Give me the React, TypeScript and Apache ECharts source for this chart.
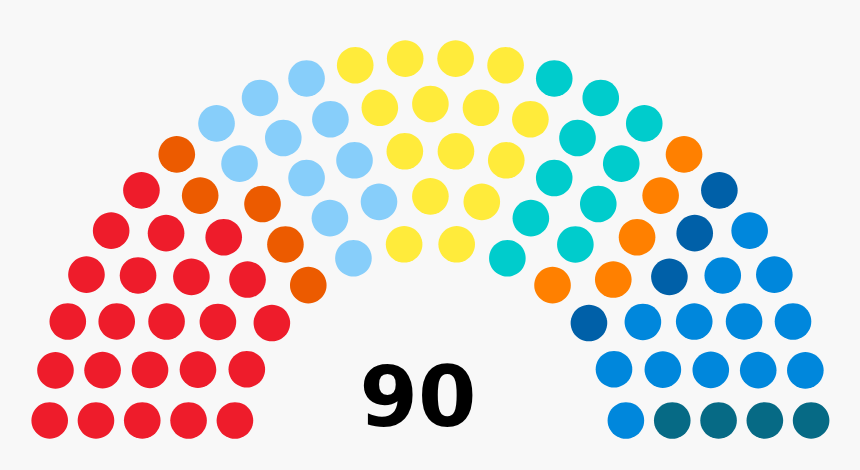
import { useEffect, useRef } from 'react';
import * as echarts from 'echarts';

// seats per group, left to right
const parties = ['A', 'B', 'C', 'D', 'E', 'F', 'G', 'H', 'I'];
const seats = [23, 5, 11, 15, 10, 5, 4, 13, 4];
const colors = ['#EE1C2B', '#EC5B00', '#87CEFA', '#FFEB3B', '#00CCCC', '#FF8000', '#0060A8', '#0087DC', '#066A85'];
const totalLabel = '90';

// row capacities used by the classic parliament-diagram layout
const rowTotals = [3, 15, 33, 61, 95, 138, 189, 247, 313, 388, 469, 559, 657, 762, 876, 997];

function seatLayout(total: number) {
  let rows = 0;
  while (rowTotals[rows] < total) rows++;
  rows += 1;
  const spot = 0.4 / rows;
  const list: [number, number][] = [];
  const addRow = (R: number, J: number) => {
    if (J === 1) {
      list.push([Math.PI / 2, R]);
      return;
    }
    const off = Math.sin(spot / R);
    for (let j = 0; j < J; j++) {
      list.push([(j * (Math.PI - 2 * off)) / (J - 1) + off, R]);
    }
  };
  for (let i = 1; i < rows; i++) {
    const R = (3 * rows + 4 * i - 2) / (4 * rows);
    const J = Math.floor(
      ((total / rowTotals[rows - 1]) * Math.PI) / (2 * Math.asin(2 / (3 * rows + 4 * i - 2)))
    );
    addRow(R, J);
  }
  addRow((7 * rows - 2) / (4 * rows), total - list.length);
  list.sort((a, b) => b[0] - a[0] || b[1] - a[1]);
  return { rows, outer: (7 * rows - 2) / (4 * rows), list };
}

export default function App() {
  const chartRef = useRef<HTMLDivElement>(null);

  useEffect(() => {
    if (!chartRef.current) return;
    document.body.style.margin = '0';
    document.body.style.background = '#F8F8F8';

    const chart = echarts.init(chartRef.current, undefined, { renderer: 'svg' });
    const total = seats.reduce((s, v) => s + v, 0);
    const { outer, list } = seatLayout(total);
    const unit = 231;

    let k = 0;
    const series = parties.map((name, p) => {
      const data: [number, number][] = [];
      for (let n = 0; n < seats[p]; n++) {
        const [a, R] = list[k++];
        data.push([R, (a * 180) / Math.PI]);
      }
      return {
        name,
        type: 'scatter' as const,
        coordinateSystem: 'polar',
        symbol: 'circle',
        symbolSize: 36.6,
        itemStyle: { color: colors[p], opacity: 1 },
        emphasis: { disabled: true },
        data,
      };
    });

    chart.setOption({
      animation: false,
      backgroundColor: '#F8F8F8',
      polar: {
        center: [430.4, 438.9],
        radius: outer * unit,
      },
      radiusAxis: { type: 'value', min: 0, max: outer, show: false },
      angleAxis: {
        type: 'value',
        min: 0,
        max: 360,
        startAngle: 0,
        clockwise: false,
        show: false,
      },
      graphic: [
        {
          type: 'text',
          x: 418,
          y: 396.5,
          style: {
            text: totalLabel,
            font: 'bold 84px "DejaVu Sans"',
            fill: '#000',
            textAlign: 'center',
            textVerticalAlign: 'middle',
          },
        },
      ],
      series,
    });

    return () => chart.dispose();
  }, []);

  return <div ref={chartRef} style={{ width: 860, height: 470 }} />;
}
